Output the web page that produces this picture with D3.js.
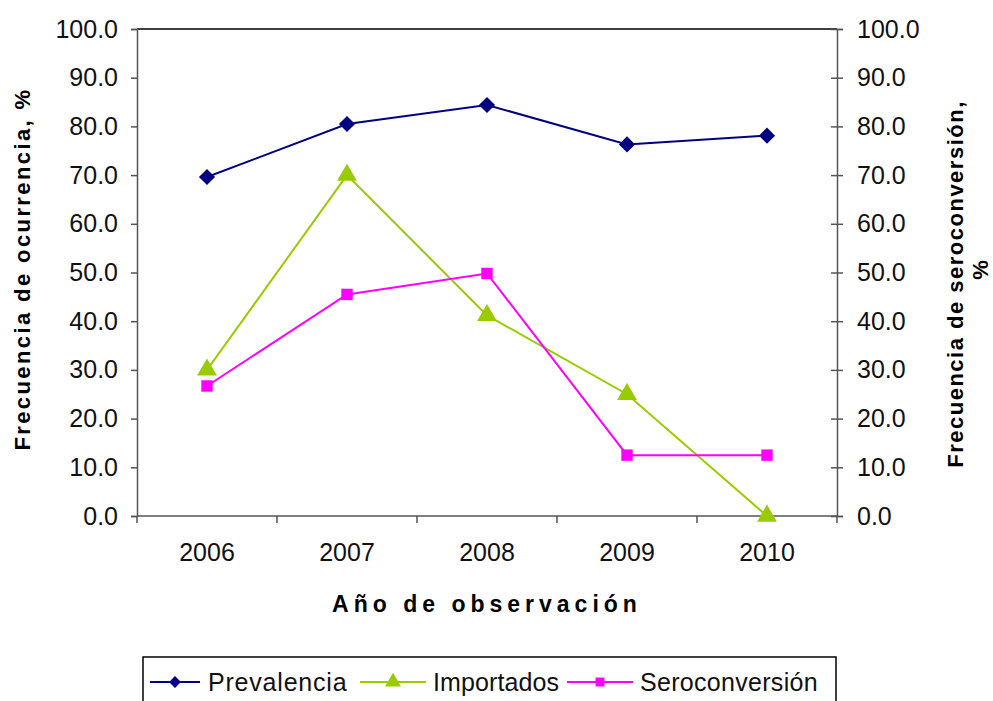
<!DOCTYPE html>
<html><head><meta charset="utf-8">
<script src="https://cdn.jsdelivr.net/npm/d3@7"></script>
<style>body{margin:0;background:#fff}svg{display:block}text{font-family:"Liberation Sans",Arial,sans-serif}</style>
</head><body>
<svg id="c" width="993" height="701"></svg>
<script>
const years = ["2006","2007","2008","2009","2010"];
const prevalencia = [69.6, 80.5, 84.4, 76.3, 78.1];
const importados = [30.0, 70.0, 41.2, 25.0, 0.0];
const seroconversion = [26.7, 45.5, 49.8, 12.5, 12.5];
const yTicks = [0,10,20,30,40,50,60,70,80,90,100];
const seriesNames = ["Prevalencia","Importados","Seroconversión"];

const svg = d3.select("#c");
const L=137, R=837, T=29, B=516;
const x = d3.scaleBand().domain(years).range([L,R]);
const y = d3.scaleLinear().domain([0,100]).range([B,T]);

svg.append("line").attr("x1",L).attr("x2",R).attr("y1",T).attr("y2",T).attr("stroke","#000").attr("stroke-width",1.5);

const gl = svg.append("g").attr("transform",`translate(${L},0)`)
  .call(d3.axisLeft(y).tickValues(yTicks).tickSize(6).tickPadding(13).tickFormat(d3.format(".1f")));
const gr = svg.append("g").attr("transform",`translate(${R},0)`)
  .call(d3.axisRight(y).tickValues(yTicks).tickSize(6).tickPadding(14).tickFormat(d3.format(".1f")));
gr.selectAll(".tick line").attr("x1",-6);
const gb = svg.append("g").attr("transform",`translate(0,${B})`)
  .call(d3.axisBottom(x).tickSize(0).tickPadding(27));
[gl,gr,gb].forEach(g=>{
  g.select(".domain").attr("stroke","#555").attr("stroke-width",1.5);
  g.selectAll(".tick line").attr("stroke","#555").attr("stroke-width",1.5);
  g.selectAll(".tick text").attr("font-size",25).attr("fill","#111").attr("font-family","Liberation Sans, Arial, sans-serif");
});
gb.select(".domain").attr("d",`M${L},0H${R}`);
gb.selectAll(".bt").data(years.concat(["end"])).enter().append("line")
  .attr("x1",(d,i)=>L+i*x.bandwidth()).attr("x2",(d,i)=>L+i*x.bandwidth())
  .attr("y1",0).attr("y2",7).attr("stroke","#555").attr("stroke-width",1.5);

const colors = ["#000080","#99CC00","#FF00FF"];
const data = [prevalencia, importados, seroconversion];
const shapes = [d3.symbolSquare, d3.symbolTriangle, d3.symbolSquare];
const sizes = [130, 170, 130];
const rots = [45, 0, 0];
const cx = d => x(d)+x.bandwidth()/2;

data.forEach((vals,si)=>{
  svg.append("path").datum(vals)
    .attr("fill","none").attr("stroke",colors[si]).attr("stroke-width",2)
    .attr("d", d3.line().x((v,i)=>cx(years[i])).y(v=>y(v)));
  svg.selectAll(".m"+si).data(vals).enter().append("path")
    .attr("transform",(v,i)=>`translate(${cx(years[i])},${y(v)}) rotate(${rots[si]})`)
    .attr("d", d3.symbol().type(shapes[si]).size(sizes[si]))
    .attr("fill",colors[si]);
});

svg.append("text").attr("transform","translate(30,269) rotate(-90)")
  .attr("text-anchor","middle").attr("font-size",22).attr("font-weight","bold").attr("letter-spacing",2.4)
  .text("Frecuencia de ocurrencia, %");
svg.append("text").attr("transform","translate(963,284) rotate(-90)")
  .attr("text-anchor","middle").attr("font-size",22).attr("font-weight","bold").attr("letter-spacing",1.5)
  .text("Frecuencia de seroconversión,");
svg.append("text").attr("transform","translate(988,270) rotate(-90)")
  .attr("text-anchor","middle").attr("font-size",22).attr("font-weight","bold")
  .text("%");
svg.append("text").attr("x",487).attr("y",612)
  .attr("text-anchor","middle").attr("font-size",23).attr("font-weight","bold").attr("letter-spacing",5)
  .text("Año de observación");

svg.append("rect").attr("x",143).attr("y",657).attr("width",693).attr("height",60)
  .attr("fill","#fff").attr("stroke","#000").attr("stroke-width",1.5);
const legX = [150, 360, 567];
const legSizes = [70, 110, 80];
const legSpacing = [0.8, 0.1, 0.3];
const lg = svg.selectAll(".lg").data(seriesNames).enter().append("g")
  .attr("transform",(d,i)=>`translate(${legX[i]},682)`);
lg.append("line").attr("x1",0).attr("x2",(d,i)=>i==0?50:66).attr("y1",0).attr("y2",0)
  .attr("stroke",(d,i)=>colors[i]).attr("stroke-width",2);
lg.append("path").attr("transform",(d,i)=>`translate(${i==0?25:33},0) rotate(${rots[i]})`)
  .attr("d",(d,i)=>d3.symbol().type(shapes[i]).size(legSizes[i])())
  .attr("fill",(d,i)=>colors[i]);
lg.append("text").attr("x",(d,i)=>i==0?58:73).attr("y",9).attr("font-size",25)
  .attr("fill","#111").attr("letter-spacing",(d,i)=>legSpacing[i]).text(d=>d);
</script>
</body></html>
